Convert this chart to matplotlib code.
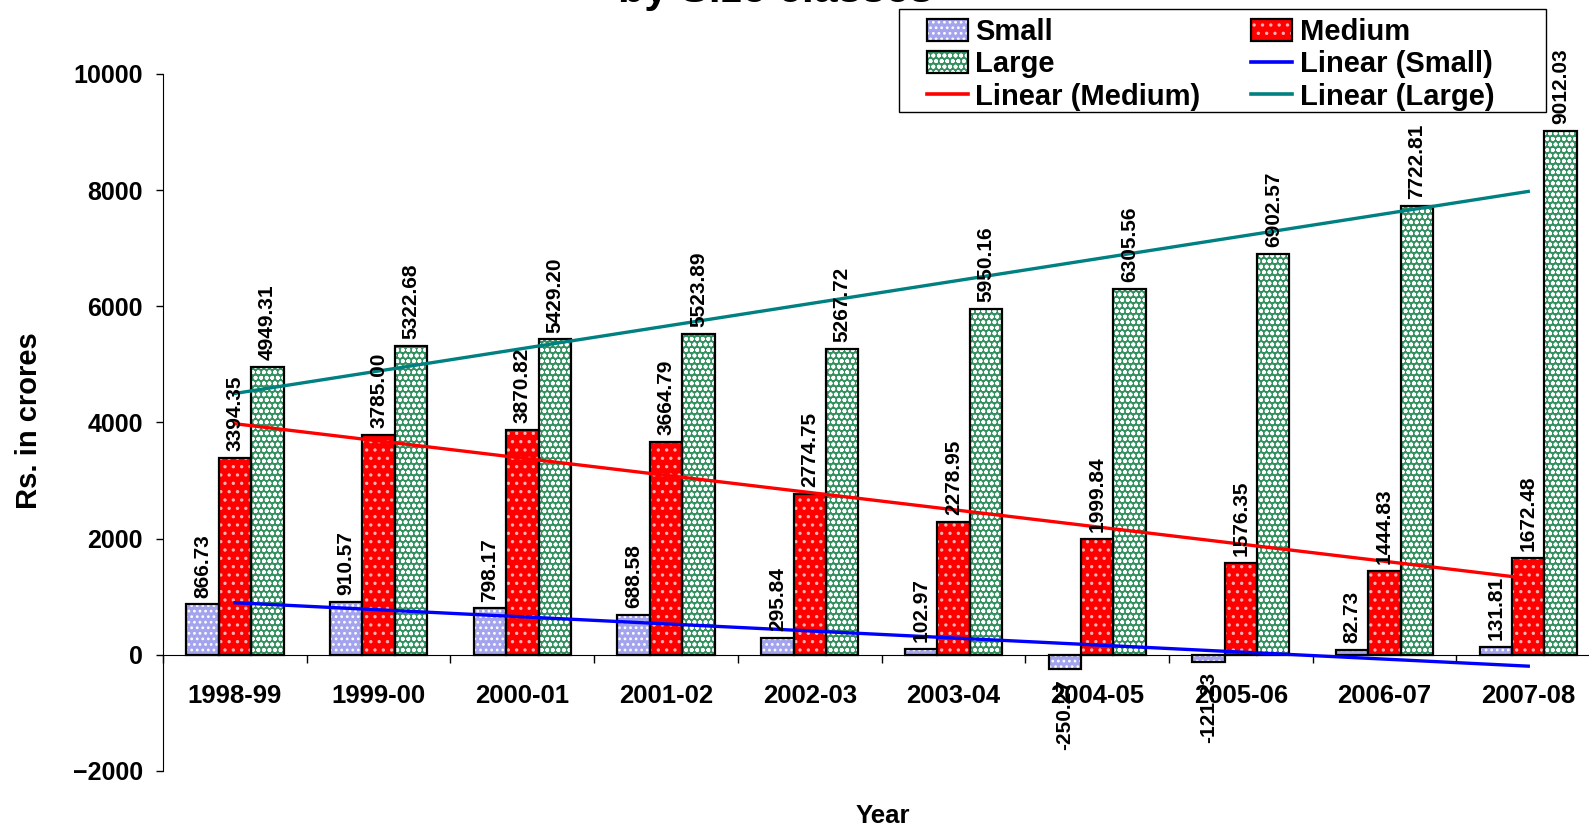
import numpy as np
import matplotlib
matplotlib.use("Agg")
import matplotlib.pyplot as plt
from matplotlib.patches import Patch, Rectangle
from matplotlib.lines import Line2D

years = ["1998-99", "1999-00", "2000-01", "2001-02", "2002-03",
         "2003-04", "2004-05", "2005-06", "2006-07", "2007-08"]
small = [866.73, 910.57, 798.17, 688.58, 295.84, 102.97, -250.27, -121.23, 82.73, 131.81]
medium = [3394.35, 3785.00, 3870.82, 3664.79, 2774.75, 2278.95, 1999.84, 1576.35, 1444.83, 1672.48]
large = [4949.31, 5322.68, 5429.20, 5523.89, 5267.72, 5950.16, 6305.56, 6902.57, 7722.81, 9012.03]

plt.rcParams['font.family'] = ['Liberation Sans', 'DejaVu Sans']
plt.rcParams['hatch.linewidth'] = 1.2

fig = plt.figure(figsize=(15.89, 8.30), dpi=100)
ax = fig.add_axes([0.1026, 0.0711, 0.9044, 0.8398])

x = np.arange(len(years))
w = 0.2256

# (values, face colour, hatch, hatch colour, trend colour, name)
series = [
    (small, '#a3a3ee', '...', 'white', '#0000ff', 'Small'),
    (medium, '#ff0000', '..', '#ffb0b0', '#ff0000', 'Medium'),
    (large, '#33905f', 'ooo', 'white', '#008080', 'Large'),
]

bar_handles = {}
trend_handles = {}
for k, (vals, face, hatch, hcol, tcol, name) in enumerate(series):
    pos = x + (k - 1) * w
    # patterned fill first, black outline on top
    ax.bar(pos, vals, w, color=face, hatch=hatch, edgecolor=hcol, linewidth=0, zorder=2)
    ax.bar(pos, vals, w, fill=False, edgecolor='black', linewidth=1.6, zorder=3)
    bar_handles[name] = (Patch(facecolor=face, hatch=hatch, edgecolor=hcol, linewidth=0),
                         Patch(fill=False, edgecolor='black', linewidth=1.6))
    for xi, v in zip(pos, vals):
        if v >= 0:
            ax.annotate(f"{v:.2f}", (xi, v), xytext=(0, 5), textcoords='offset points',
                        rotation=90, ha='center', va='bottom', fontsize=15,
                        fontweight='bold', zorder=5, annotation_clip=False)
        else:
            ax.annotate(f"{v:.2f}", (xi, v), xytext=(0, -7), textcoords='offset points',
                        rotation=90, ha='center', va='top', fontsize=15,
                        fontweight='bold', zorder=5, annotation_clip=False)

# linear trend lines
for vals, face, hatch, hcol, tcol, name in series:
    slope, icpt = np.polyfit(x, vals, 1)
    ax.plot([x[0], x[-1]], [icpt + slope * x[0], icpt + slope * x[-1]],
            color=tcol, linewidth=2.4, zorder=4)
    trend_handles[name] = Line2D([], [], color=tcol, linewidth=2.6)

ax.set_xlim(-0.5, len(years) - 0.5)
ax.set_ylim(-2000, 10000)
ax.set_yticks(np.arange(-2000, 10001, 2000))
ax.tick_params(axis='y', direction='out', length=5, width=1, pad=9.5, labelsize=18)
for lab in ax.get_yticklabels():
    lab.set_fontweight('bold')

ax.spines['top'].set_visible(False)
ax.spines['right'].set_visible(False)
ax.spines['left'].set_bounds(-2000, 10000)
ax.spines['bottom'].set_position(('data', 0))

ax.set_xticks(np.arange(-0.5, len(years), 1))
ax.set_xticklabels([])
ax.set_xticks(x, minor=True)
ax.set_xticklabels(years, minor=True, fontsize=18.5, fontweight='bold')
ax.tick_params(axis='x', which='major', direction='out', length=6, width=1)
ax.tick_params(axis='x', which='minor', length=0, pad=21)

fig.text(0.0185, 0.4928, "Rs. in crores", rotation=90, ha='center', va='center',
         fontsize=21, fontweight='bold')
fig.text(0.5557, 0.0169, "Year", ha='center', va='center', fontsize=18.5, fontweight='bold')
fig.text(0.488, 0.9976, "by Size classes", ha='center', va='baseline',
         fontsize=31, fontweight='bold')

handles = [bar_handles['Small'], bar_handles['Large'], trend_handles['Medium'],
           bar_handles['Medium'], trend_handles['Small'], trend_handles['Large']]
labels = ['Small', 'Large', 'Linear (Medium)', 'Medium', 'Linear (Small)', 'Linear (Large)']
leg = ax.legend(handles, labels, ncol=2, loc='upper left',
                bbox_to_anchor=(927 / 1589, 812 / 830), bbox_transform=fig.transFigure,
                borderaxespad=0, borderpad=0, frameon=False,
                labelspacing=0.15, handlelength=1.4, handleheight=0.8, handletextpad=0.25,
                columnspacing=1.75, prop={'weight': 'bold', 'size': 21})
# legend box
fig.add_artist(Rectangle((899 / 1589, 718 / 830), 647 / 1589, 103 / 830,
                         transform=fig.transFigure, fill=False, edgecolor='black',
                         linewidth=1.0, zorder=6))

fig.savefig("out.png", dpi=100)
